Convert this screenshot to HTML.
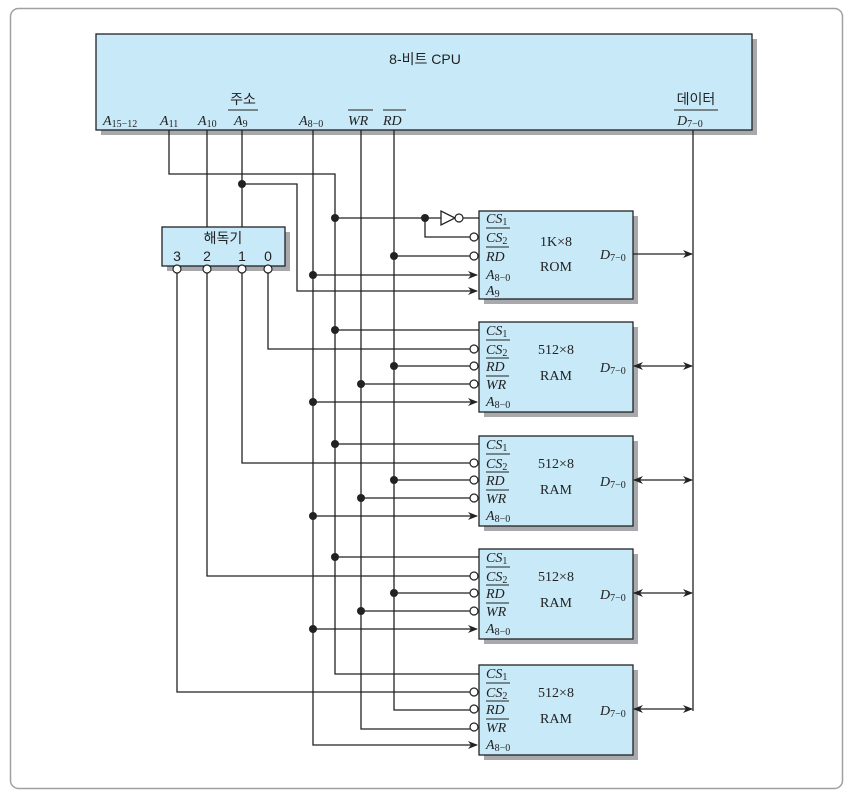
<!DOCTYPE html>
<html><head><meta charset="utf-8"><style>
body{margin:0;background:#fff}
svg{display:block}
.s{font-family:"Liberation Serif",serif;font-size:14px;fill:#222}
.i{font-style:italic}
.k{font-family:"Liberation Sans","Noto Sans CJK KR",sans-serif;font-size:14px;fill:#222}
.w{fill:none;stroke:#222;stroke-width:1.3}
</style></head><body>
<svg width="854" height="795" viewBox="0 0 854 795" xmlns="http://www.w3.org/2000/svg">
<defs>
<marker id="ar" markerWidth="10" markerHeight="8" refX="9" refY="4" orient="auto" markerUnits="userSpaceOnUse"><path d="M0,0 L10,4 L0,8 L3,4z" fill="#222"/></marker>
<marker id="al" markerWidth="10" markerHeight="8" refX="1" refY="4" orient="auto" markerUnits="userSpaceOnUse"><path d="M10,0 L0,4 L10,8 L7,4z" fill="#222"/></marker>
<g id="ram">
<rect x="484" y="5" width="154" height="90" fill="#a7a9ac"/>
<rect x="479" y="0" width="154" height="90" fill="#c8e9f8" stroke="#222" stroke-width="1.3"/>
<text class="s i" x="486" y="13">CS<tspan font-size="10" font-style="normal" dy="2">1</tspan></text>
<line x1="486" y1="18" x2="510" y2="18" stroke="#222"/>
<text class="s i" x="486" y="32">CS<tspan font-size="10" font-style="normal" dy="2">2</tspan></text>
<line x1="486" y1="36" x2="509" y2="36" stroke="#222"/>
<text class="s i" x="486" y="49">RD</text>
<line x1="486" y1="54" x2="509" y2="54" stroke="#222"/>
<text class="s i" x="486" y="67">WR</text>
<text class="s i" x="486" y="84">A<tspan font-size="10" font-style="normal" dy="2">8−0</tspan></text>
<text class="s" x="556" y="32" text-anchor="middle">512×8</text>
<text class="s" x="556" y="58" text-anchor="middle">RAM</text>
<text class="s i" x="600" y="50">D<tspan font-size="10" font-style="normal" dy="2">7−0</tspan></text>
<circle cx="474" cy="27" r="4" fill="#fff" stroke="#222" stroke-width="1.2"/>
<circle cx="474" cy="44" r="4" fill="#fff" stroke="#222" stroke-width="1.2"/>
<circle cx="474" cy="62" r="4" fill="#fff" stroke="#222" stroke-width="1.2"/>
<line x1="634" y1="44" x2="692" y2="44" class="w" marker-start="url(#al)" marker-end="url(#ar)"/>
</g>
</defs>
<rect x="10.5" y="8.5" width="832" height="780" rx="8" fill="none" stroke="#a0a0a0" stroke-width="1.5"/>
<!-- CPU -->
<rect x="101" y="39" width="656" height="96" fill="#a7a9ac"/>
<rect x="96" y="34" width="656" height="96" fill="#c8e9f8" stroke="#222" stroke-width="1.3"/>
<text class="k" x="425" y="64" text-anchor="middle">8-비트 CPU</text>
<text class="k" x="243" y="104" text-anchor="middle">주소</text>
<line x1="228" y1="110" x2="258" y2="110" stroke="#222"/>
<text class="k" x="696" y="104" text-anchor="middle">데이터</text>
<line x1="674" y1="110" x2="718" y2="110" stroke="#222"/>
<g class="s i">
<text x="103" y="125">A<tspan font-size="10" font-style="normal" dy="2">15−12</tspan></text>
<text x="160" y="125">A<tspan font-size="10" font-style="normal" dy="2">11</tspan></text>
<text x="198" y="125">A<tspan font-size="10" font-style="normal" dy="2">10</tspan></text>
<text x="234" y="125">A<tspan font-size="10" font-style="normal" dy="2">9</tspan></text>
<text x="299" y="125">A<tspan font-size="10" font-style="normal" dy="2">8−0</tspan></text>
<text x="348" y="125">WR</text>
<text x="383" y="125">RD</text>
<text x="677" y="125">D<tspan font-size="10" font-style="normal" dy="2">7−0</tspan></text>
</g>
<line x1="348" y1="110" x2="373" y2="110" stroke="#222"/>
<line x1="383" y1="110" x2="406" y2="110" stroke="#222"/>
<!-- Decoder -->
<rect x="167" y="232" width="123" height="39" fill="#a7a9ac"/>
<rect x="162" y="227" width="123" height="39" fill="#c8e9f8" stroke="#222" stroke-width="1.3"/>
<text class="k" x="223" y="243" text-anchor="middle">해독기</text>
<text class="k" x="177" y="261" text-anchor="middle">3</text>
<text class="k" x="207" y="261" text-anchor="middle">2</text>
<text class="k" x="242" y="261" text-anchor="middle">1</text>
<text class="k" x="268" y="261" text-anchor="middle">0</text>
<!-- ROM -->
<rect x="484" y="216" width="154" height="88" fill="#a7a9ac"/>
<rect x="479" y="211" width="154" height="88" fill="#c8e9f8" stroke="#222" stroke-width="1.3"/>
<g class="s i">
<text x="486" y="223">CS<tspan font-size="10" font-style="normal" dy="2">1</tspan></text>
<text x="486" y="242">CS<tspan font-size="10" font-style="normal" dy="2">2</tspan></text>
<text x="486" y="261">RD</text>
<text x="486" y="279">A<tspan font-size="10" font-style="normal" dy="2">8−0</tspan></text>
<text x="486" y="295">A<tspan font-size="10" font-style="normal" dy="2">9</tspan></text>
<text x="600" y="259">D<tspan font-size="10" font-style="normal" dy="2">7−0</tspan></text>
</g>
<line x1="486" y1="228" x2="510" y2="228" stroke="#222"/>
<line x1="486" y1="247" x2="509" y2="247" stroke="#222"/>
<text class="s" x="556" y="246" text-anchor="middle">1K×8</text>
<text class="s" x="556" y="271" text-anchor="middle">ROM</text>
<use href="#ram" y="322"/>
<use href="#ram" y="436"/>
<use href="#ram" y="549"/>
<use href="#ram" y="665"/>
<!-- wires -->
<g class="w">
<path d="M169 130V174H335V674H479"/>
<path d="M207 130V227"/>
<path d="M242 130V227M242 184H297V291H477" marker-end="url(#ar)"/>
<path d="M313 130V745H477" marker-end="url(#ar)"/>
<path d="M361 130V729H470"/>
<path d="M394 130V710H470"/>
<path d="M693 130V711"/>
<path d="M335 218H441M463 218H479M425 218V237H470"/>
<path d="M441 211L441 225L455 218Z"/>
<path d="M394 256H470"/>
<path d="M313 275H477" marker-end="url(#ar)"/>
<path d="M633 254H692" marker-end="url(#ar)"/>
<path d="M335 330H479M335 444H479M335 557H479"/>
<path d="M394 366H470M394 480H470M394 593H470"/>
<path d="M361 384H470M361 498H470M361 611H470"/>
<path d="M313 402H477" marker-end="url(#ar)"/>
<path d="M313 516H477" marker-end="url(#ar)"/>
<path d="M313 629H477" marker-end="url(#ar)"/>
<path d="M268 273V349H470M242 273V463H470M207 273V576H470M177 273V692H470"/>
</g>
<g fill="#fff" stroke="#222" stroke-width="1.2">
<circle cx="177" cy="269" r="4"/><circle cx="207" cy="269" r="4"/><circle cx="242" cy="269" r="4"/><circle cx="268" cy="269" r="4"/>
<circle cx="459" cy="218" r="4"/><circle cx="474" cy="237" r="4"/><circle cx="474" cy="256" r="4"/>
</g>
<g fill="#222">
<circle cx="242" cy="184" r="4"/>
<circle cx="335" cy="218" r="4"/><circle cx="425" cy="218" r="4"/><circle cx="394" cy="256" r="4"/><circle cx="313" cy="275" r="4"/>
<circle cx="335" cy="330" r="4"/><circle cx="394" cy="366" r="4"/><circle cx="361" cy="384" r="4"/><circle cx="313" cy="402" r="4"/>
<circle cx="335" cy="444" r="4"/><circle cx="394" cy="480" r="4"/><circle cx="361" cy="498" r="4"/><circle cx="313" cy="516" r="4"/>
<circle cx="335" cy="557" r="4"/><circle cx="394" cy="593" r="4"/><circle cx="361" cy="611" r="4"/><circle cx="313" cy="629" r="4"/>
</g>
</svg>
</body></html>
